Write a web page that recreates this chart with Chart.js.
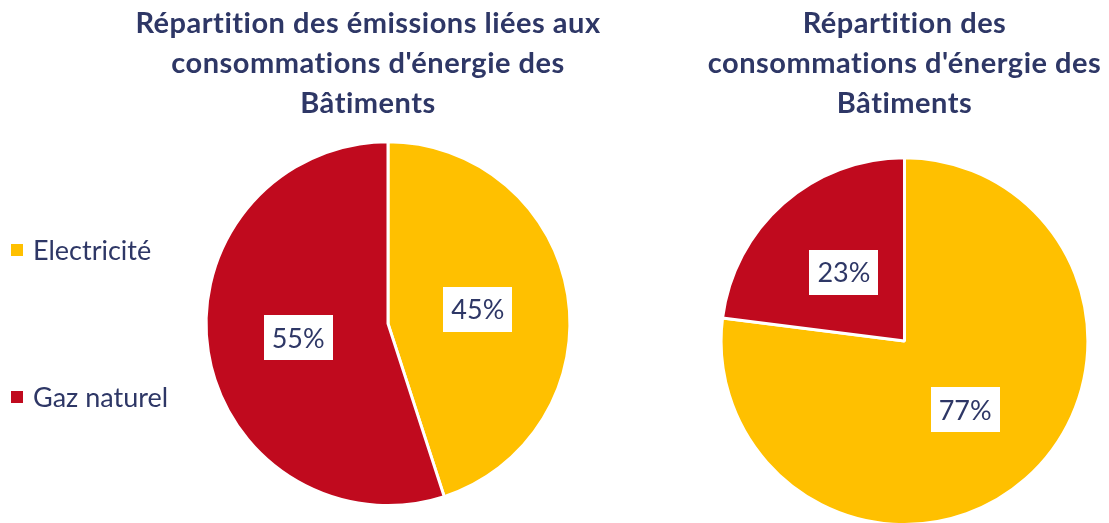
<!DOCTYPE html>
<html><head><meta charset="utf-8">
<script src="https://cdn.jsdelivr.net/npm/chart.js@4/dist/chart.umd.min.js"></script>
<style>
html,body{margin:0;padding:0;background:#fff;width:1109px;height:523px;overflow:hidden;position:relative;font-family:Lato,sans-serif}
#left{position:absolute;left:0;top:0;width:736px;height:523px}
#right{position:absolute;left:700px;top:0;width:409px;height:528px}
.leg{position:absolute;left:11px;font-family:Lato,sans-serif;font-size:27px;color:#2E3766;white-space:nowrap;line-height:32px}
.leg span.sq{position:absolute;left:0;width:12px;height:12px}
.leg span.tx{position:absolute;left:22px;top:0}
</style></head><body>
<div id="left"><canvas id="c1"></canvas></div>
<div id="right"><canvas id="c2"></canvas></div>
<div id="legend"></div>
<script>
const categories = ['Electricité', 'Gaz naturel'];
const emissionsValues = [45, 55];
const consumptionValues = [77, 23];
const titleLeft = ['Répartition des émissions liées aux', "consommations d'énergie des", 'Bâtiments'];
const titleRight = ['Répartition des', "consommations d'énergie des", 'Bâtiments'];
const colors = ['#FFC000', '#C00A1E'];
const navy = '#2E3766';

// HTML legend
const legTops = [234, 381];
const legend = document.getElementById('legend');
categories.forEach((c, i) => {
  const d = document.createElement('div');
  d.className = 'leg';
  d.style.top = legTops[i] + 'px';
  d.innerHTML = '<span class="sq" style="background:' + colors[i] + ';top:10px"></span><span class="tx">' + c + '</span>';
  legend.appendChild(d);
});

const spacingPlugin = {
  id: 'noLigatures',
  beforeDraw(chart) { chart.ctx.letterSpacing = '0.5px'; },
  afterDraw(chart) { chart.ctx.letterSpacing = '0px'; }
};

const titleShiftPlugin = {
  id: 'titleShift',
  afterLayout(chart, args, opts) {
    if (chart.titleBlock && opts.shift) {
      chart.titleBlock.left -= opts.shift;
    }
  }
};

const labelPlugin = {
  id: 'boxLabels',
  afterDatasetsDraw(chart) {
    const ctx = chart.ctx;
    const meta = chart.getDatasetMeta(0);
    const data = chart.data.datasets[0].data;
    ctx.save();
    ctx.letterSpacing = '0px';
    meta.data.forEach((arc, i) => {
      const p = arc.getCenterPoint();
      const w = 69, h = 45;
      ctx.fillStyle = '#ffffff';
      ctx.fillRect(Math.round(p.x - w / 2), Math.round(p.y - h / 2), w, h);
      ctx.fillStyle = navy;
      ctx.font = '27px Lato';
      ctx.textAlign = 'center';
      ctx.textBaseline = 'middle';
      ctx.fillText(data[i] + '%', p.x, p.y + 1);
    });
    ctx.restore();
  }
};

function makeChart(id, values, title, padBottomTitle, layoutPad, shift) {
  return new Chart(document.getElementById(id), {
    type: 'pie',
    data: {
      labels: categories,
      datasets: [{
        data: values,
        backgroundColor: colors,
        borderColor: '#ffffff',
        borderWidth: 3,
        hoverOffset: 0
      }]
    },
    options: {
      responsive: true,
      maintainAspectRatio: false,
      animation: false,
      events: [],
      layout: { padding: layoutPad },
      plugins: {
        legend: { display: false },
        tooltip: { enabled: false },
        titleShift: { shift: shift },
        title: {
          display: true,
          text: title,
          color: navy,
          font: { family: 'Lato', size: 29, weight: 'bold', lineHeight: 1.37 },
          padding: { top: 4, bottom: padBottomTitle }
        }
      }
    },
    plugins: [spacingPlugin, titleShiftPlugin, labelPlugin]
  });
}

makeChart('c1', emissionsValues, titleLeft, 17, { left: 40, right: 0, top: 0, bottom: 16 }, 40);
makeChart('c2', consumptionValues, titleRight, 33, { left: 0, right: 0, top: 0, bottom: 2 }, 0);
</script>
</body></html>
